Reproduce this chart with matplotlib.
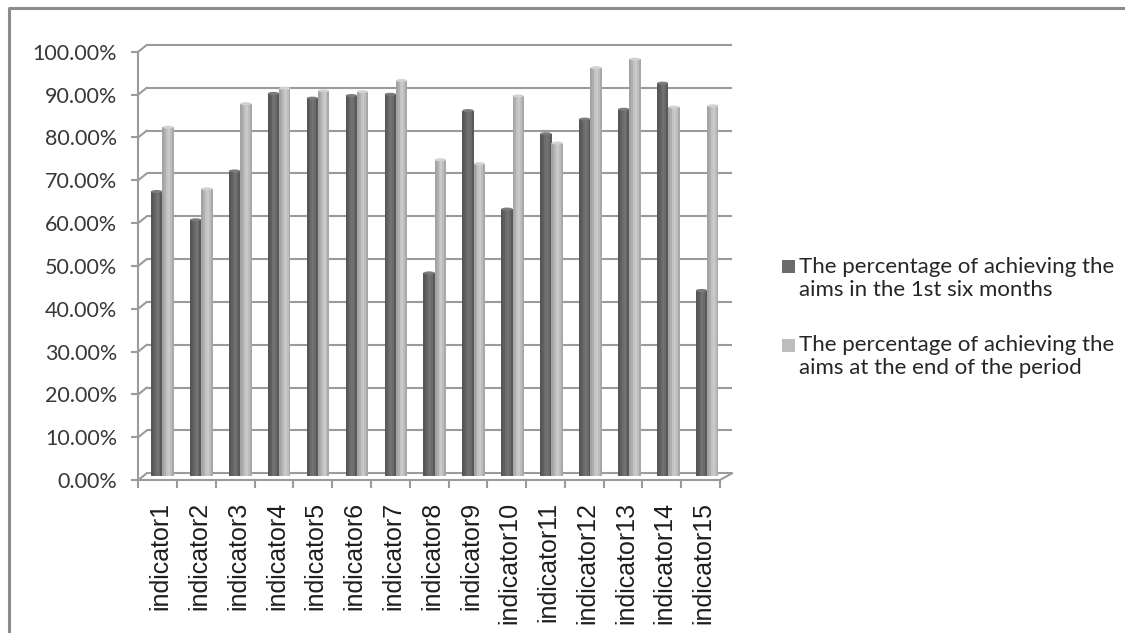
import matplotlib
matplotlib.use("Agg")
import matplotlib.pyplot as plt
from matplotlib.lines import Line2D
from matplotlib.patches import Ellipse, Rectangle
from matplotlib.transforms import ScaledTranslation

# ---- data -------------------------------------------------------------
categories = [f"indicator{i}" for i in range(1, 16)]
first_half = [66.5, 59.9, 71.3, 89.4, 88.3, 88.9, 89.2, 47.5,
              85.4, 62.4, 80.0, 83.4, 85.7, 91.8, 43.4]
period_end = [81.5, 67.1, 87.0, 90.6, 90.0, 89.8, 92.4, 73.9,
              73.0, 88.8, 77.8, 95.4, 97.4, 86.2, 86.5]
y_ticks = list(range(0, 101, 10))
y_tick_labels = [f"{v:.2f}%" for v in y_ticks]
series_labels = [["The percentage of achieving the", "aims in the 1st six months"],
                 ["The percentage of achieving the", "aims at the end of the period"]]

# ---- styling ----------------------------------------------------------
W, H, DPI = 1125, 633, 100
GRID = "#9b9b9b"
DARK_STRIPS = ["#565656", "#5e5e5e", "#6c6c6c", "#737373", "#6a6a6a", "#595959"]
LIGHT_STRIPS = ["#a3a3a3", "#afafaf", "#c3c3c3", "#cacaca", "#bdbdbd", "#a8a8a8"]
DARK_TOP, LIGHT_TOP = "#7c7c7c", "#d2d2d2"
KEY_COLORS = ["#6b6b6b", "#bdbdbd"]

fig = plt.figure(figsize=(W / DPI, H / DPI), dpi=DPI)
fig.patch.set_facecolor("white")

# front face of the plot box, in pixels
fx0, fx1 = 138.3, 720.0
fy0, fy1 = 480.0, 51.7
ax = fig.add_axes([fx0 / W, 1 - fy0 / H, (fx1 - fx0) / W, (fy0 - fy1) / H])
n = len(categories)
ax.set_xlim(0, n)
ax.set_ylim(0, 100)
ax.set_facecolor("none")

px_x = (fx1 - fx0) / n      # pixels per category
px_y = (fy0 - fy1) / 100.0  # pixels per percent


def depth_dx(x):
    """Horizontal depth offset (data units) of the back wall at position x."""
    return (8.4 + 3.6 * x / n) / px_x


depth_dy = 6.7 / px_y
lw_grid = 1.5

# back wall gridlines and the diagonal from each y tick to the wall
for v in y_ticks:
    ax.plot([depth_dx(0), n + depth_dx(n)], [v + depth_dy, v + depth_dy],
            color=GRID, lw=lw_grid, clip_on=False, zorder=1,
            solid_capstyle="butt")
    ax.plot([0, depth_dx(0)], [v, v + depth_dy], color=GRID, lw=lw_grid,
            clip_on=False, zorder=1)

# floor: front edge and right-hand side
ax.plot([0, n], [0, 0], color=GRID, lw=lw_grid, clip_on=False, zorder=1)
ax.plot([n, n + depth_dx(n)], [0, depth_dy], color=GRID, lw=lw_grid,
        clip_on=False, zorder=1)

# ---- bars (shaded columns) --------------------------------------------
bar_w = 11.3 / px_x
depth_frac = 0.55
base = depth_frac * depth_dy
for i in range(n):
    cx = i + 0.5 + depth_frac * depth_dx(i + 0.5)
    for val, centre, strips, top in (
            (first_half[i], cx - bar_w / 2, DARK_STRIPS, DARK_TOP),
            (period_end[i], cx + bar_w / 2, LIGHT_STRIPS, LIGHT_TOP)):
        k = len(strips)
        sw = bar_w / k
        left = centre - bar_w / 2
        for j, c in enumerate(strips):
            ax.bar(left + (j + 0.5) * sw, val, width=sw * 1.02, bottom=base,
                   color=c, linewidth=0, zorder=3)
        ax.add_patch(Ellipse((centre, base + val), bar_w, 3.0 / px_y,
                             facecolor=top, edgecolor="none", zorder=4))

# ---- axes, ticks and labels -------------------------------------------
for side in ("top", "right", "bottom"):
    ax.spines[side].set_visible(False)
ax.spines["left"].set_color(GRID)
ax.spines["left"].set_linewidth(lw_grid)

ax.set_yticks(y_ticks)
ax.set_yticklabels(y_tick_labels, family="Lato", fontsize=15.5, color="#383838")
ax.tick_params(axis="y", length=4.75, width=lw_grid, color=GRID, pad=10.5)

ax.set_xticks([i + 0.5 for i in range(n)])
ax.set_xticklabels(categories, rotation=90, family="Liberation Sans",
                   fontsize=18, color="#1e1e1e", va="top", ha="center")
ax.set_xticks(range(n + 1), minor=True)
ax.tick_params(axis="x", which="major", length=0, pad=15.5)
ax.tick_params(axis="x", which="minor", length=5.8, width=lw_grid, color=GRID)
shift = ScaledTranslation(3 / DPI, 0, fig.dpi_scale_trans)
for lbl in ax.get_xticklabels():
    lbl.set_transform(lbl.get_transform() + shift)

# ---- legend (key square beside the first line of each entry) ----------
legend_rows = [267, 345]
line_gap = 22.5
key = 13
for key_color, lines, row in zip(KEY_COLORS, series_labels, legend_rows):
    fig.add_artist(Rectangle((782 / W, 1 - (row + key / 2) / H), key / W, key / H,
                             transform=fig.transFigure, facecolor=key_color,
                             edgecolor="none"))
    for k, txt in enumerate(lines):
        fig.text(799 / W, 1 - (row + k * line_gap) / H, txt,
                 family="Lato", fontsize=16, color="#262626",
                 ha="left", va="center")

# ---- outer frame (top and left edges) ---------------------------------
fig.add_artist(Line2D([8.5 / W, 8.5 / W, 1.0], [0.0, 1 - 8 / H, 1 - 8 / H],
                      transform=fig.transFigure, color="#8c8c8c", lw=2.2))

fig.savefig("out.png", dpi=DPI, facecolor="white")
